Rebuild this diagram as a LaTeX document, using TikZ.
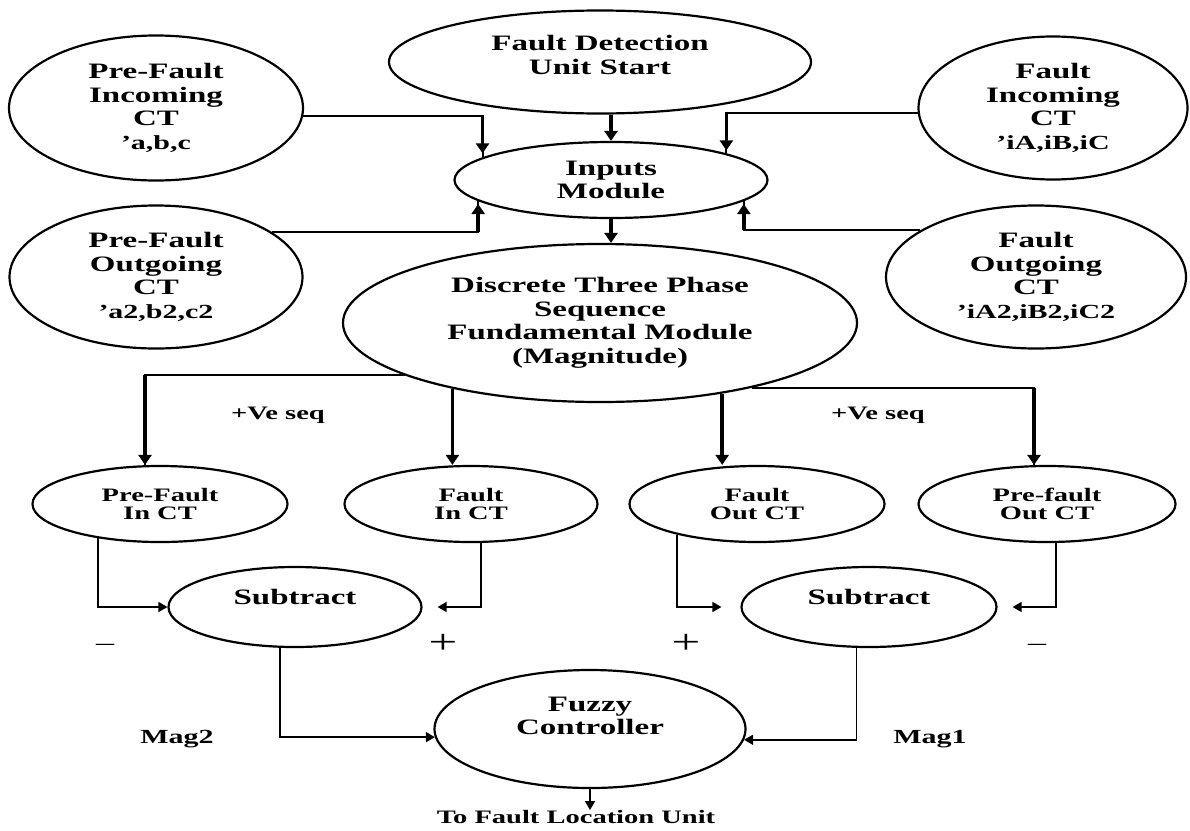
\documentclass[tikz,border=0pt]{standalone}
\usepackage{fontspec}
\setmainfont{Liberation Serif}[FakeStretch=1.5]
\usetikzlibrary{arrows.meta,shapes.geometric}
\begin{document}
\begin{tikzpicture}[x=1pt,y=-1pt,
  ell/.style={draw, ellipse, line width=2.2pt, inner sep=0pt, align=center,
    font=\bfseries\fontsize{22}{23.5}\selectfont},
  sm/.style={ell, font=\bfseries\fontsize{19}{18}\selectfont},
  txt/.style={inner sep=0pt, align=center, font=\bfseries\fontsize{22}{23.5}\selectfont},
  lbl/.style={inner sep=0pt, font=\bfseries\fontsize{19}{20}\selectfont},
  sgn/.style={inner sep=0pt, font=\fontsize{24}{24}\selectfont},
  conn/.style={line width=2pt},
  vert/.style={line width=3.5pt, -{Triangle[width=13pt,length=10pt]}},
  tarr/.style={line width=1.6pt, -{Triangle[width=10pt,length=9pt]}}
]
\useasboundingbox (0,0) rectangle (1190,830);
% top ellipses
\node[ell, minimum width=422pt, minimum height=103pt] (fd) at (600,62) {};
\node[txt] (fdt) at (600,55) {Fault Detection\\Unit Start};
\node[ell, minimum width=294pt, minimum height=145pt] (pfi) at (156,108)
  {Pre-Fault\\Incoming\\CT\\{\fontsize{20}{23.5}\selectfont 'a,b,c}};
\node[ell, minimum width=269pt, minimum height=143pt] (fic) at (1053,108)
  {Fault\\Incoming\\CT\\{\fontsize{20}{23.5}\selectfont 'iA,iB,iC}};
\node[ell, minimum width=313pt, minimum height=76pt] (inp) at (611,180) {Inputs\\Module};
\node[ell, minimum width=293pt, minimum height=143pt] (pfo) at (156,277)
  {Pre-Fault\\Outgoing\\CT\\{\fontsize{20}{23.5}\selectfont 'a2,b2,c2}};
\node[ell, minimum width=300pt, minimum height=143pt] (fo) at (1036,277)
  {Fault\\Outgoing\\CT\\{\fontsize{20}{23.5}\selectfont 'iA2,iB2,iC2}};
\node[ell, minimum width=514pt, minimum height=158pt] (disc) at (600,323)
  {Discrete Three Phase\\Sequence\\Fundamental Module\\(Magnitude)};
% CT ellipses
\node[sm, minimum width=255pt, minimum height=76pt] (pfin) at (160,504) {Pre-Fault\\In CT};
\node[sm, minimum width=253pt, minimum height=76pt] (fin) at (471,504) {Fault\\In CT};
\node[sm, minimum width=255pt, minimum height=76pt] (fout) at (757,504) {Fault\\Out CT};
\node[sm, minimum width=257pt, minimum height=76pt] (pfout) at (1047,504) {Pre-fault\\Out CT};
% subtract
\node[ell, minimum width=253pt, minimum height=80pt] (subL) at (295,607) {};
\node[txt] (subLt) at (295,597) {Subtract};
\node[ell, minimum width=255pt, minimum height=80pt] (subR) at (869,607) {};
\node[txt] (subRt) at (869,597) {Subtract};
% fuzzy
\node[ell, minimum width=311pt, minimum height=118pt] (fz) at (590,729) {};
\node[txt] (fzt) at (590,716) {Fuzzy\\Controller};
% labels
\node[lbl] (ve1) at (278,415) {+Ve seq};
\node[lbl] (ve2) at (878,415) {+Ve seq};
\node[lbl, font=\bfseries\fontsize{20}{20}\selectfont] (mag2) at (177,739) {Mag2};
\node[lbl, font=\bfseries\fontsize{20}{20}\selectfont] (mag1) at (930,739) {Mag1};
\node[sgn] (s1) at (105,647) {–};
\node[sgn, font=\fontsize{34}{34}\selectfont] (s2) at (443,644) {+};
\node[sgn, font=\fontsize{34}{34}\selectfont] (s3) at (686,644) {+};
\node[sgn] (s4) at (1037,647) {–};
\node[lbl] (toflu) at (576,817) {To Fault Location Unit};
% upper connectors
\draw[conn] (pfi.357.6) -| (inp.170.9);
\draw[vert, shorten >=4pt] (pfi.357.6 -| inp.170.9) -- (inp.170.9);
\draw[conn] (fic.182.5) -| (inp.13.8);
\draw[vert, shorten >=3pt] (fic.182.5 -| inp.13.8) -- (inp.13.8);
\draw[conn] (pfo.21.5) -| (inp.189.1);
\draw[vert, shorten >=3pt] (pfo.21.5 -| inp.189.1) -- (inp.189.1);
\draw[conn] (fo.158.5) -| (inp.351.4);
\draw[vert, shorten >=3pt] (fo.158.5 -| inp.351.4) -- (inp.351.4);
\draw[vert] (inp.north |- fd.south) -- (inp.north);
\draw[vert] (inp.south) -- (inp.south |- disc.north);
% branches from discrete module
\coordinate (c1) at ([xshift=-15pt]pfin.north);
\draw[conn] (disc.195.5) -| (c1);
\draw[vert] (disc.195.5 -| c1) -- (c1);
\draw[vert] (disc.204.6) -- (disc.204.6 |- fin.north);
\draw[vert] (disc.330.1) -- (disc.330.1 |- fout.north);
\coordinate (c2) at ([xshift=-13pt]pfout.north);
\draw[conn] (disc.337) -| (c2);
\draw[vert] (disc.337 -| c2) -- (c2);
% to subtract blocks
\coordinate (c3) at ([xshift=15pt]subL.east);
\coordinate (c4) at ([xshift=-19pt]subR.west);
\coordinate (c5) at ([xshift=15pt]subR.east);
\draw[tarr] (pfin.209.7) |- (subL.west);
\draw[tarr] (fin.284.8) |- (c3);
\draw[tarr] (fout.201) |- (c4);
\draw[tarr] (pfout.283.3) |- (c5);
\draw[tarr] (subL.250.5) |- (fz.183.4);
\draw[tarr] (subR.253.1) |- (fz.356.6);
\coordinate (out) at (590,810);
\draw[tarr] (fz.south) -- (out);
\end{tikzpicture}
\end{document}
